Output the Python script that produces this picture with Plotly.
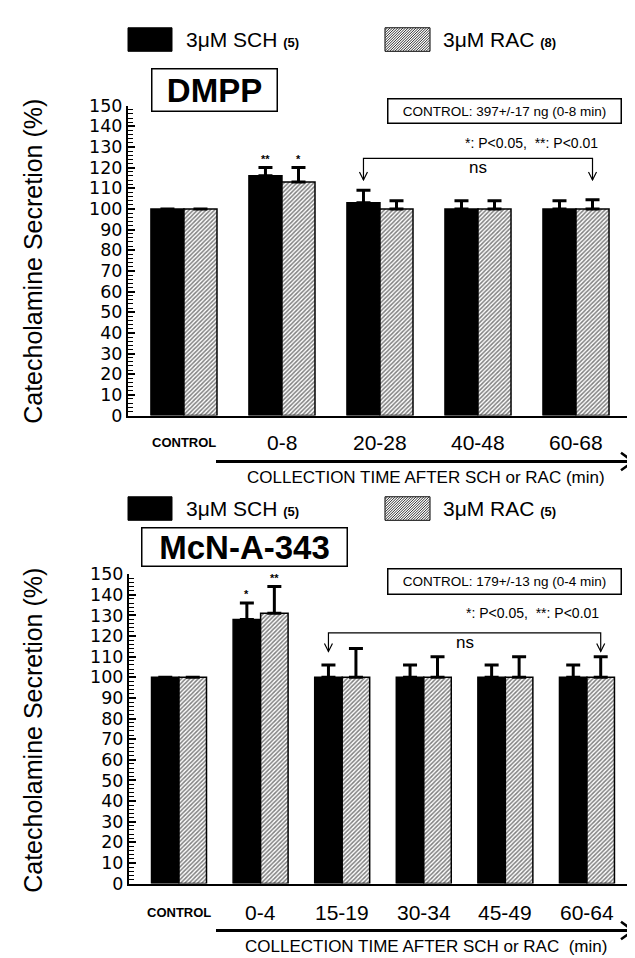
import plotly.graph_objects as go

W, H = 635, 958
FONT = "Liberation Sans, Arial, Helvetica, sans-serif"
TICKFONT = "DejaVu Sans, Liberation Sans, sans-serif"

# ---------------- data ----------------
top_cats = ["CONTROL", "0-8", "20-28", "40-48", "60-68"]
top_sch = [100, 116, 103, 100, 100]
top_sch_err = [0, 4, 6, 4, 4]
top_rac = [100, 113, 100, 100, 100]
top_rac_err = [0, 7, 4, 4, 4.5]
top_sig_sch = ["", "**", "", "", ""]
top_sig_rac = ["", "*", "", "", ""]
top_n = ["5", "8"]
top_control = "CONTROL: 397+/-17 ng (0-8 min)"

bot_cats = ["CONTROL", "0-4", "15-19", "30-34", "45-49", "60-64"]
bot_sch = [100, 128, 100, 100, 100, 100]
bot_sch_err = [0, 8, 6, 6, 6, 6]
bot_rac = [100, 131, 100, 100, 100, 100]
bot_rac_err = [0, 13, 14, 10, 10, 10]
bot_sig_sch = ["", "*", "", "", "", ""]
bot_sig_rac = ["", "**", "", "", "", ""]
bot_n = ["5", "5"]
bot_control = "CONTROL: 179+/-13 ng (0-4 min)"

y_ticks = list(range(0, 151, 10))

# ---------------- helpers ----------------
def fx(p):
    return p / W

def fy(p):
    return 1 - p / H

BARGAP = 0.326
HALF = (1 - BARGAP) / 4  # offset of each bar centre from group centre

fig = go.Figure()

pattern = dict(shape="/", size=3, solidity=0.5, fgcolor="black", bgcolor="white")

def add_panel(cats, sch, sch_err, rac, rac_err, xa, ya):
    xs = list(range(len(cats)))
    fig.add_trace(go.Bar(
        x=xs, y=sch, xaxis=xa, yaxis=ya, showlegend=False,
        marker=dict(color="black", line=dict(color="black", width=1.5)),
        error_y=dict(type="data", array=sch_err, arrayminus=[0] * len(xs), symmetric=False,
                     color="black", thickness=3, width=7),
    ))
    fig.add_trace(go.Bar(
        x=xs, y=rac, xaxis=xa, yaxis=ya, showlegend=False,
        marker=dict(color="white", line=dict(color="black", width=1.5), pattern=pattern),
        error_y=dict(type="data", array=rac_err, arrayminus=[0] * len(xs), symmetric=False,
                     color="black", thickness=3, width=7),
    ))

add_panel(top_cats, top_sch, top_sch_err, top_rac, top_rac_err, "x", "y")
add_panel(bot_cats, bot_sch, bot_sch_err, bot_rac, bot_rac_err, "x2", "y2")

ax_common = dict(showline=True, linecolor="black", linewidth=2, showgrid=False,
                 zeroline=False, ticks="", showticklabels=False)
ay_common = dict(showline=True, linecolor="black", linewidth=2, showgrid=False,
                 zeroline=False, range=[0, 150], tickmode="array", tickvals=y_ticks,
                 ticks="inside", ticklen=7, tickwidth=1.5, tickcolor="black",
                 minor=dict(tickmode="linear", tick0=0, dtick=2, ticks="inside", ticklen=5,
                            tickwidth=1.2, tickcolor="black", showgrid=False),
                 tickfont=dict(family=TICKFONT, size=17.5, color="black"))

fig.update_layout(
    width=W, height=H, margin=dict(l=0, r=0, t=0, b=0),
    paper_bgcolor="white", plot_bgcolor="white",
    barmode="group", bargap=BARGAP, bargroupgap=0,
    xaxis=dict(domain=[fx(120), fx(632)], range=[-0.571, 4.653], anchor="y", **ax_common),
    yaxis=dict(domain=[fy(406), fy(89.5)], anchor="x", **ay_common),
    xaxis2=dict(domain=[fx(121), fx(632)], range=[-0.613, 5.65], anchor="y2", **ax_common),
    yaxis2=dict(domain=[fy(884), fy(568)], anchor="x2", **ay_common),
)

ann = []
shapes = []

def txt(x, y, text, size, xref="paper", yref="paper", bold=False, xanchor="center", yanchor="middle", **kw):
    t = f"<b>{text}</b>" if bold else text
    ann.append(dict(x=x, y=y, xref=xref, yref=yref, text=t, showarrow=False,
                    xanchor=xanchor, yanchor=yanchor,
                    font=dict(family=FONT, size=size, color="black"), **kw))

def hatched_swatch(x0, y0, x1, y1, step=2.6):
    segs = []
    c = x0 + y0 + step
    while c < x1 + y1:
        sx = max(x0, c - y1); ex = min(x1, c - y0)
        if sx < ex:
            segs.append(f"M{fx(sx):.5f},{fy(c - sx):.5f}L{fx(ex):.5f},{fy(c - ex):.5f}")
        c += step
    shapes.append(dict(type="rect", xref="paper", yref="paper", x0=fx(x0), x1=fx(x1),
                       y0=fy(y1), y1=fy(y0), fillcolor="white", line=dict(color="black", width=1)))
    shapes.append(dict(type="path", xref="paper", yref="paper", path="".join(segs),
                       line=dict(color="#333333", width=1)))

def legend_row(yc, y0, y1, n):
    shapes.append(dict(type="rect", xref="paper", yref="paper", x0=fx(120), x1=fx(164),
                       y0=fy(y1), y1=fy(y0), fillcolor="black", line=dict(color="black", width=1)))
    txt(fx(176), fy(yc), f"3μM SCH <b><span style='font-size:13px'>({n[0]})</span></b>", 21, xanchor="left")
    hatched_swatch(377, y0, 422, y1)
    txt(fx(433), fy(yc), f"3μM RAC <b><span style='font-size:13px'>({n[1]})</span></b>", 21, xanchor="left")

def boxed(xc, yc, text, size, w, h, bold=False):
    t = f"<b>{text}</b>" if bold else text
    ann.append(dict(x=fx(xc), y=fy(yc), xref="paper", yref="paper", text=t, showarrow=False,
                    xanchor="center", yanchor="middle", width=w, height=h, borderpad=0,
                    bordercolor="black", borderwidth=1.5, bgcolor="white",
                    font=dict(family=FONT, size=size, color="black")))

def panel_extras(cats, sch, sch_err, rac, rac_err, sig_sch, sig_rac, xa, ya,
                 lab_y, arrow_y, coll_y, coll_text, br_y, br_tip, ns_y, br_from, br_to):
    for i, c in enumerate(cats):
        if i == 0:
            txt(i, fy(lab_y), c, 13, xref=xa, bold=True)
        else:
            txt(i, fy(lab_y), c, 21, xref=xa)
        if sig_sch[i]:
            txt(i - HALF, sch[i] + sch_err[i], sig_sch[i], 11, xref=xa, yref=ya, bold=True,
                yanchor="bottom", yshift=1)
        if sig_rac[i]:
            txt(i + HALF, rac[i] + rac_err[i], sig_rac[i], 11, xref=xa, yref=ya, bold=True,
                yanchor="bottom", yshift=1)
    # time arrow
    shapes.append(dict(type="line", xref="paper", yref="paper", x0=fx(208), x1=fx(624),
                       y0=fy(arrow_y), y1=fy(arrow_y), line=dict(color="black", width=3)))
    shapes.append(dict(type="path", xref="paper", yref="paper",
                       path=f"M{fx(613)},{fy(arrow_y - 9)}L{fx(625)},{fy(arrow_y)}L{fx(613)},{fy(arrow_y + 9)}",
                       line=dict(color="black", width=2.5)))
    txt(fx(418), fy(coll_y), coll_text, 17)
    # ns bracket
    xl = br_from - HALF
    xr = br_to + HALF
    shapes.append(dict(type="path", xref=xa, yref=ya,
                       path=f"M{xl},{br_tip}L{xl},{br_y}L{xr},{br_y}L{xr},{br_tip}",
                       line=dict(color="black", width=1.2)))
    for xv in (xl, xr):
        shapes.append(dict(type="path", xref=xa, yref=ya, xsizemode="pixel", ysizemode="pixel",
                           xanchor=xv, yanchor=br_tip, path="M-4,8L0,0L4,8",
                           line=dict(color="black", width=1.2)))
    txt((xl + xr) / 2, ns_y, "ns", 17, xref=xa, yref=ya)

# ---------------- top panel ----------------
legend_row(22, 10, 34, top_n)
boxed(496, 95, top_control, 13.5, 232, 23)
boxed(206, 73.5, "DMPP", 33, 124, 41, bold=True)
txt(fx(592), fy(128), "*: P&lt;0.05,  **: P&lt;0.01", 14, xanchor="right")
txt(fx(25), fy(249), "Catecholamine Secretion (%)", 25, textangle=-90)
panel_extras(top_cats, top_sch, top_sch_err, top_rac, top_rac_err, top_sig_sch, top_sig_rac,
             "x", "y", 434, 453, 469, "COLLECTION TIME AFTER SCH or RAC (min)",
             124.5, 114, 120, 2, 4)

# ---------------- bottom panel ----------------
legend_row(501, 489, 513, bot_n)
boxed(236, 540.5, "McN-A-343", 33, 204, 37, bold=True)
boxed(496, 576, bot_control, 13.5, 232, 24)
txt(fx(593), fy(608), "*: P&lt;0.05,  **: P&lt;0.01", 14, xanchor="right")
txt(fx(25), fy(728), "Catecholamine Secretion (%)", 25, textangle=-90)
panel_extras(bot_cats, bot_sch, bot_sch_err, bot_rac, bot_rac_err, bot_sig_sch, bot_sig_rac,
             "x2", "y2", 914, 932, 948, "COLLECTION TIME AFTER SCH or RAC  (min)",
             121.5, 112.5, 117, 2, 5)

fig.update_layout(annotations=ann, shapes=shapes)
fig.write_html("out.html")
